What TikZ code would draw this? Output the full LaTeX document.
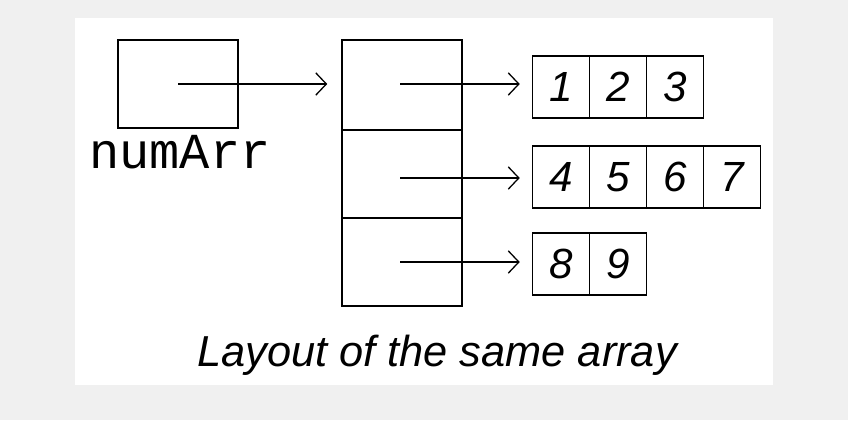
\documentclass[tikz,border=0pt]{standalone}
\usetikzlibrary{arrows.meta}
\usepackage{fontspec}
\setmainfont{Liberation Sans}
\newfontfamily\monof{Liberation Mono}
\begin{document}
\begin{tikzpicture}[x=0.03cm,y=-0.03cm,
  box/.style={draw,line width=1.3pt,minimum width=#1*0.03cm,inner sep=0pt},
  cell/.style={draw,line width=1.3pt,minimum width=57*0.03cm,minimum height=62*0.03cm,inner sep=0pt,font=\fontsize{36}{36}\selectfont\itshape},
  arr/.style={-{Straight Barb[length=9pt,width=19pt]},line width=1.1pt}]
\useasboundingbox (0,0) rectangle (848,420);
\fill[black!6] (0,0) rectangle (848,420);
\fill[white] (75,18) rectangle (773,385);
\node[box=120,minimum height=88*0.03cm] (na) at (178,84) {};
\coordinate (nas) at (178,84);
\node[font=\monof\fontsize{43}{43}\selectfont] (lab) at (180,152) {numArr};
\node[box=120,minimum height=90*0.03cm] (m1) at (402,85) {};
\node[box=120,minimum height=88*0.03cm] (m2) at (402,174) {};
\node[box=120,minimum height=88*0.03cm] (m3) at (402,262) {};
\coordinate (s1) at (400,84);\coordinate (s2) at (400,178);\coordinate (s3) at (400,262);
\node[cell] (a1) at (561,87) {1};
\node[cell] (a2) at (618,87) {2};
\node[cell] (a3) at (675,87) {3};
\node[cell] (b1) at (561,177) {4};
\node[cell] (b2) at (618,177) {5};
\node[cell] (b3) at (675,177) {6};
\node[cell] (b4) at (732,177) {7};
\node[cell] (c1) at (561,264) {8};
\node[cell] (c2) at (618,264) {9};
\draw[arr] (nas) -- ([xshift=-0.42cm]nas -| m1.west);
\draw[arr] (s1) -- ([xshift=-0.36cm]s1 -| a1.west);
\draw[arr] (s2) -- ([xshift=-0.36cm]s2 -| b1.west);
\draw[arr] (s3) -- ([xshift=-0.36cm]s3 -| c1.west);
\node[font=\fontsize{37}{37}\selectfont\itshape] (cap) at (437,355) {Layout of the same array};
\end{tikzpicture}
\end{document}
